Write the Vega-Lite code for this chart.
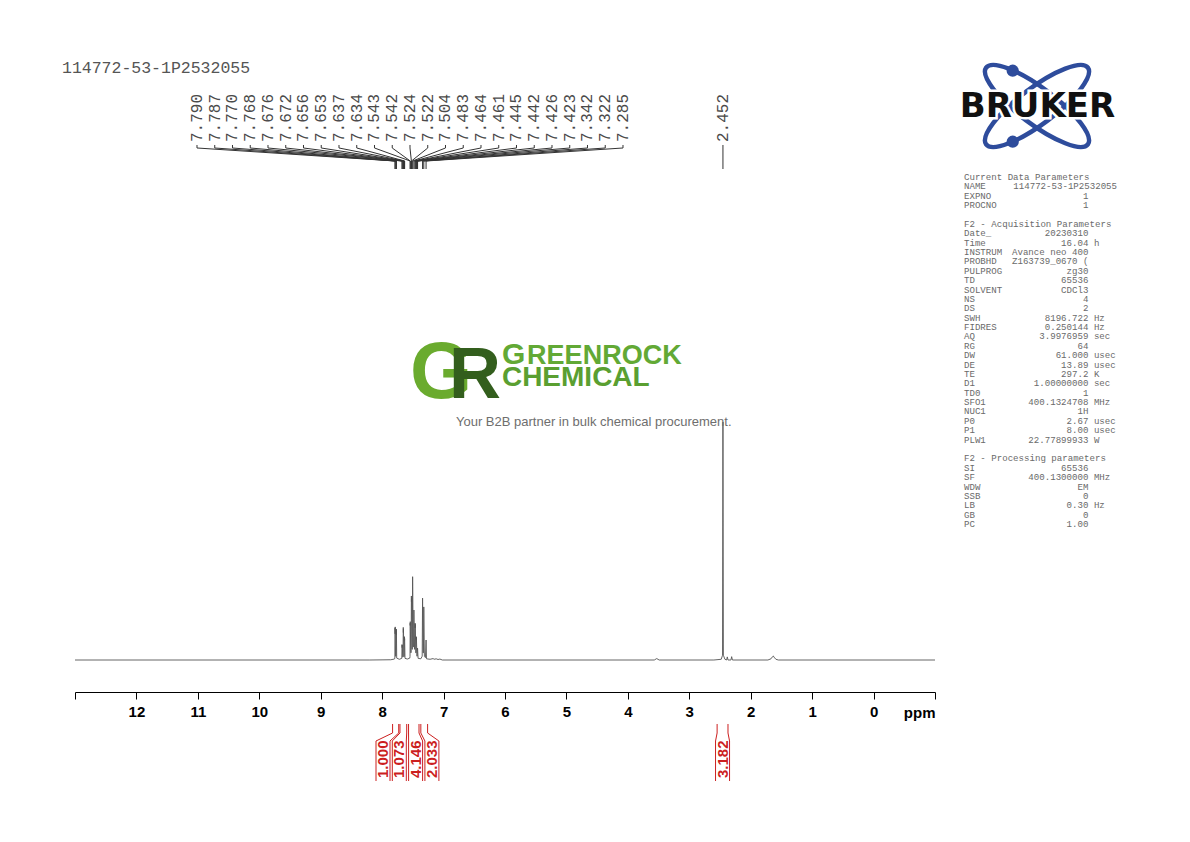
{
  "$schema": "https://vega.github.io/schema/vega-lite/v6.json",
  "padding": {"left": 62, "top": 55, "right": 0, "bottom": 0},
  "background": "white",
  "config": {"view": {"stroke": null}, "axis": {"grid": false}, "font": "Liberation Sans"},
  "datasets": {
    "spectrum": [
      {"ppm": 13.0, "intensity": 0}, {"ppm": 8.2, "intensity": 0}, {"ppm": 7.86, "intensity": 0.1}, {"ppm": 7.80, "intensity": 0.4},
      {"ppm": 7.793, "intensity": 0.8}, {"ppm": 7.790, "intensity": 13.5}, {"ppm": 7.7885, "intensity": 11.0}, {"ppm": 7.787, "intensity": 13.9},
      {"ppm": 7.782, "intensity": 1.6}, {"ppm": 7.775, "intensity": 1.6}, {"ppm": 7.770, "intensity": 12.5}, {"ppm": 7.769, "intensity": 10.5},
      {"ppm": 7.768, "intensity": 13.0}, {"ppm": 7.763, "intensity": 0.8}, {"ppm": 7.72, "intensity": 0.3}, {"ppm": 7.68, "intensity": 0.7},
      {"ppm": 7.676, "intensity": 6.5}, {"ppm": 7.674, "intensity": 5.2}, {"ppm": 7.672, "intensity": 6.3}, {"ppm": 7.665, "intensity": 1.2},
      {"ppm": 7.660, "intensity": 1.4}, {"ppm": 7.656, "intensity": 13.7}, {"ppm": 7.6545, "intensity": 11.5}, {"ppm": 7.653, "intensity": 13.0},
      {"ppm": 7.646, "intensity": 1.4}, {"ppm": 7.641, "intensity": 1.4}, {"ppm": 7.637, "intensity": 9.8}, {"ppm": 7.6355, "intensity": 8.2},
      {"ppm": 7.634, "intensity": 9.0}, {"ppm": 7.628, "intensity": 0.7}, {"ppm": 7.59, "intensity": 0.4}, {"ppm": 7.55, "intensity": 0.8},
      {"ppm": 7.546, "intensity": 1.5}, {"ppm": 7.543, "intensity": 15.5}, {"ppm": 7.5425, "intensity": 14.5}, {"ppm": 7.542, "intensity": 16.1},
      {"ppm": 7.534, "intensity": 3.0}, {"ppm": 7.528, "intensity": 3.2}, {"ppm": 7.524, "intensity": 26.9}, {"ppm": 7.523, "intensity": 24.5},
      {"ppm": 7.522, "intensity": 26.0}, {"ppm": 7.513, "intensity": 4.5}, {"ppm": 7.508, "intensity": 4.5}, {"ppm": 7.504, "intensity": 35.0},
      {"ppm": 7.494, "intensity": 5.5}, {"ppm": 7.488, "intensity": 5.5}, {"ppm": 7.483, "intensity": 21.0}, {"ppm": 7.473, "intensity": 4.5},
      {"ppm": 7.468, "intensity": 4.5}, {"ppm": 7.464, "intensity": 15.5}, {"ppm": 7.4625, "intensity": 13.5}, {"ppm": 7.461, "intensity": 15.0},
      {"ppm": 7.452, "intensity": 3.0}, {"ppm": 7.449, "intensity": 3.0}, {"ppm": 7.445, "intensity": 9.8}, {"ppm": 7.4435, "intensity": 8.5},
      {"ppm": 7.442, "intensity": 9.5}, {"ppm": 7.434, "intensity": 1.6}, {"ppm": 7.430, "intensity": 1.6}, {"ppm": 7.426, "intensity": 5.0},
      {"ppm": 7.4245, "intensity": 4.2}, {"ppm": 7.423, "intensity": 4.8}, {"ppm": 7.415, "intensity": 0.7}, {"ppm": 7.37, "intensity": 0.5},
      {"ppm": 7.348, "intensity": 1.6}, {"ppm": 7.342, "intensity": 26.0}, {"ppm": 7.333, "intensity": 3.0}, {"ppm": 7.328, "intensity": 3.0},
      {"ppm": 7.322, "intensity": 22.3}, {"ppm": 7.312, "intensity": 1.5}, {"ppm": 7.295, "intensity": 1.0}, {"ppm": 7.285, "intensity": 8.4},
      {"ppm": 7.278, "intensity": 0.5}, {"ppm": 7.22, "intensity": 0.3}, {"ppm": 7.17, "intensity": 0.6}, {"ppm": 7.155, "intensity": 0.3},
      {"ppm": 7.12, "intensity": 0.5}, {"ppm": 7.09, "intensity": 0.2}, {"ppm": 7.06, "intensity": 0.4}, {"ppm": 7.02, "intensity": 0},
      {"ppm": 6.0, "intensity": 0}, {"ppm": 3.57, "intensity": 0}, {"ppm": 3.53, "intensity": 0.6}, {"ppm": 3.49, "intensity": 0},
      {"ppm": 2.60, "intensity": 0}, {"ppm": 2.48, "intensity": 0.3}, {"ppm": 2.459, "intensity": 2.0}, {"ppm": 2.452, "intensity": 100},
      {"ppm": 2.445, "intensity": 2.0}, {"ppm": 2.42, "intensity": 0.3}, {"ppm": 2.392, "intensity": 0}, {"ppm": 2.381, "intensity": 1.3},
      {"ppm": 2.37, "intensity": 0}, {"ppm": 2.322, "intensity": 0}, {"ppm": 2.31, "intensity": 1.4}, {"ppm": 2.298, "intensity": 0},
      {"ppm": 1.72, "intensity": 0}, {"ppm": 1.67, "intensity": 0.5}, {"ppm": 1.645, "intensity": 1.4}, {"ppm": 1.633, "intensity": 1.7},
      {"ppm": 1.62, "intensity": 1.2}, {"ppm": 1.59, "intensity": 0.3}, {"ppm": 1.55, "intensity": 0}, {"ppm": -1.0, "intensity": 0}
    ],
    "peaks": [
      {"ppm": 7.790}, {"ppm": 7.787}, {"ppm": 7.770}, {"ppm": 7.768}, {"ppm": 7.676}, {"ppm": 7.672}, {"ppm": 7.656},
      {"ppm": 7.653}, {"ppm": 7.637}, {"ppm": 7.634}, {"ppm": 7.543}, {"ppm": 7.542}, {"ppm": 7.524}, {"ppm": 7.522},
      {"ppm": 7.504}, {"ppm": 7.483}, {"ppm": 7.464}, {"ppm": 7.461}, {"ppm": 7.445}, {"ppm": 7.442}, {"ppm": 7.426},
      {"ppm": 7.423}, {"ppm": 7.342}, {"ppm": 7.322}, {"ppm": 7.285}, {"ppm": 2.452}
    ],
    "integrals": [
      {"value": "1.000", "start": 7.83, "end": 7.73, "group": "A"},
      {"value": "1.073", "start": 7.71, "end": 7.60, "group": "A"},
      {"value": "4.146", "start": 7.57, "end": 7.40, "group": "A"},
      {"value": "2.033", "start": 7.37, "end": 7.26, "group": "A"},
      {"value": "3.182", "start": 2.547, "end": 2.37, "group": "B"}
    ],
    "params": [
      {"line": 1, "key": "Current Data Parameters", "value": "", "unit": ""},
      {"line": 2, "key": "NAME", "value": "114772-53-1P2532055", "unit": ""},
      {"line": 3, "key": "EXPNO", "value": "1", "unit": ""},
      {"line": 4, "key": "PROCNO", "value": "1", "unit": ""},
      {"line": 6, "key": "F2 - Acquisition Parameters", "value": "", "unit": ""},
      {"line": 7, "key": "Date_", "value": "20230310", "unit": ""},
      {"line": 8, "key": "Time", "value": "16.04", "unit": "h"},
      {"line": 9, "key": "INSTRUM", "value": "Avance neo 400", "unit": ""},
      {"line": 10, "key": "PROBHD", "value": "Z163739_0670 (", "unit": ""},
      {"line": 11, "key": "PULPROG", "value": "zg30", "unit": ""},
      {"line": 12, "key": "TD", "value": "65536", "unit": ""},
      {"line": 13, "key": "SOLVENT", "value": "CDCl3", "unit": ""},
      {"line": 14, "key": "NS", "value": "4", "unit": ""},
      {"line": 15, "key": "DS", "value": "2", "unit": ""},
      {"line": 16, "key": "SWH", "value": "8196.722", "unit": "Hz"},
      {"line": 17, "key": "FIDRES", "value": "0.250144", "unit": "Hz"},
      {"line": 18, "key": "AQ", "value": "3.9976959", "unit": "sec"},
      {"line": 19, "key": "RG", "value": "64", "unit": ""},
      {"line": 20, "key": "DW", "value": "61.000", "unit": "usec"},
      {"line": 21, "key": "DE", "value": "13.89", "unit": "usec"},
      {"line": 22, "key": "TE", "value": "297.2", "unit": "K"},
      {"line": 23, "key": "D1", "value": "1.00000000", "unit": "sec"},
      {"line": 24, "key": "TD0", "value": "1", "unit": ""},
      {"line": 25, "key": "SFO1", "value": "400.1324708", "unit": "MHz"},
      {"line": 26, "key": "NUC1", "value": "1H", "unit": ""},
      {"line": 27, "key": "P0", "value": "2.67", "unit": "usec"},
      {"line": 28, "key": "P1", "value": "8.00", "unit": "usec"},
      {"line": 29, "key": "PLW1", "value": "22.77899933", "unit": "W"},
      {"line": 31, "key": "F2 - Processing parameters", "value": "", "unit": ""},
      {"line": 32, "key": "SI", "value": "65536", "unit": ""},
      {"line": 33, "key": "SF", "value": "400.1300000", "unit": "MHz"},
      {"line": 34, "key": "WDW", "value": "EM", "unit": ""},
      {"line": 35, "key": "SSB", "value": "0", "unit": ""},
      {"line": 36, "key": "LB", "value": "0.30", "unit": "Hz"},
      {"line": 37, "key": "GB", "value": "0", "unit": ""},
      {"line": 38, "key": "PC", "value": "1.00", "unit": ""}
    ]
  },
  "spacing": 20,
  "hconcat": [
    {
      "width": 860,
      "height": 727,
      "resolve": {"axis": {"x": "independent", "y": "independent"}},
      "layer": [
        {
          "data": {"name": "spectrum"},
          "mark": {"type": "line", "color": "#555555", "strokeWidth": 0.9, "clip": true},
          "encoding": {
            "x": {"field": "ppm", "type": "quantitative", "scale": {"domain": [-1, 13], "reverse": true, "nice": false, "zero": false},
              "axis": {"values": [13, 12, 11, 10, 9, 8, 7, 6, 5, 4, 3, 2, 1, 0, -1], "offset": -90, "domain": true, "domainColor": "#000000", "domainWidth": 1,
                "ticks": true, "tickColor": "#000000", "tickSize": 7, "tickWidth": 1,
                "labelExpr": "datum.value > 12.5 || datum.value < -0.5 ? '' : datum.label",
                "labelFont": "Liberation Sans", "labelFontSize": 15, "labelFontWeight": "bold", "labelColor": "#000000", "labelPadding": 5,
                "labelOverlap": false, "labelFlush": false, "grid": false,
                "title": "ppm", "titleFont": "Liberation Sans", "titleFontSize": 15, "titleFontWeight": "bold", "titleColor": "#000000",
                "titleX": 860, "titleY": 25, "titleAlign": "right", "titleBaseline": "alphabetic"}},
            "y": {"field": "intensity", "type": "quantitative", "scale": {"domain": [-51.26, 254.2], "nice": false, "zero": false}, "axis": null}
          }
        },
        {
          "data": {"name": "peaks"},
          "transform": [
            {"window": [{"op": "row_number", "as": "rn"}], "sort": [{"field": "ppm", "order": "descending"}]},
            {"calculate": "datum.ppm > 5 ? 11.014 - (datum.rn - 1) * 0.28895 : datum.ppm", "as": "lx"}
          ],
          "layer": [
            {
              "mark": {"type": "text", "angle": 270, "align": "left", "baseline": "middle", "font": "Liberation Mono", "fontSize": 16, "color": "#4a4a4a"},
              "encoding": {
                "x": {"field": "lx", "type": "quantitative", "scale": {"domain": [-1, 13], "reverse": true, "nice": false, "zero": false}, "axis": null},
                "y": {"datum": 217.65, "type": "quantitative", "scale": {"domain": [-51.26, 254.2], "nice": false, "zero": false}, "axis": null},
                "text": {"field": "ppm", "type": "quantitative", "format": ".3f"}
              }
            },
            {
              "mark": {"type": "rule", "color": "#333333", "strokeWidth": 1},
              "encoding": {
                "x": {"field": "lx", "type": "quantitative", "scale": {"domain": [-1, 13], "reverse": true, "nice": false, "zero": false}, "axis": null},
                "y": {"datum": 216.39, "type": "quantitative", "scale": {"domain": [-51.26, 254.2], "nice": false, "zero": false}, "axis": null},
                "y2": {"datum": 215.13}
              }
            },
            {
              "mark": {"type": "rule", "color": "#333333", "strokeWidth": 1},
              "encoding": {
                "x": {"field": "lx", "type": "quantitative", "scale": {"domain": [-1, 13], "reverse": true, "nice": false, "zero": false}, "axis": null},
                "x2": {"field": "ppm"},
                "y": {"datum": 215.13, "type": "quantitative", "scale": {"domain": [-51.26, 254.2], "nice": false, "zero": false}, "axis": null},
                "y2": {"datum": 209.66}
              }
            },
            {
              "mark": {"type": "rule", "color": "#333333", "strokeWidth": 1},
              "encoding": {
                "x": {"field": "ppm", "type": "quantitative", "scale": {"domain": [-1, 13], "reverse": true, "nice": false, "zero": false},
                  "axis": {"tickCount": 140, "offset": -90, "domain": false, "labels": false, "ticks": true, "tickSize": 4, "tickColor": "#000000", "tickWidth": 0.8, "grid": false, "title": null}},
                "y": {"datum": 209.66, "type": "quantitative", "scale": {"domain": [-51.26, 254.2], "nice": false, "zero": false}, "axis": null},
                "y2": {"datum": 206.3}
              }
            }
          ]
        },
        {
          "data": {"name": "integrals"},
          "transform": [
            {"window": [{"op": "row_number", "as": "rn"}], "groupby": ["group"], "sort": [{"field": "start", "order": "descending"}]},
            {"calculate": "datum.group == 'A' ? 7.986 - (datum.rn - 1) * 0.2653 : (datum.start + datum.end) / 2", "as": "lc"},
            {"calculate": "datum.lc + 0.114", "as": "ll"},
            {"calculate": "datum.lc - 0.114", "as": "lr"}
          ],
          "layer": [
            {
              "mark": {"type": "rule", "color": "#cc1f1f", "strokeWidth": 1},
              "encoding": {
                "x": {"field": "start", "type": "quantitative", "scale": {"domain": [-1, 13], "reverse": true, "nice": false, "zero": false}, "axis": null},
                "y": {"datum": -26.89, "type": "quantitative", "scale": {"domain": [-51.26, 254.2], "nice": false, "zero": false}, "axis": null},
                "y2": {"datum": -30.67}
              }
            },
            {
              "mark": {"type": "rule", "color": "#cc1f1f", "strokeWidth": 1},
              "encoding": {
                "x": {"field": "end", "type": "quantitative", "scale": {"domain": [-1, 13], "reverse": true, "nice": false, "zero": false}, "axis": null},
                "y": {"datum": -26.89, "type": "quantitative", "scale": {"domain": [-51.26, 254.2], "nice": false, "zero": false}, "axis": null},
                "y2": {"datum": -30.67}
              }
            },
            {
              "mark": {"type": "rule", "color": "#cc1f1f", "strokeWidth": 1},
              "encoding": {
                "x": {"field": "start", "type": "quantitative", "scale": {"domain": [-1, 13], "reverse": true, "nice": false, "zero": false}, "axis": null},
                "x2": {"field": "ll"},
                "y": {"datum": -30.67, "type": "quantitative", "scale": {"domain": [-51.26, 254.2], "nice": false, "zero": false}, "axis": null},
                "y2": {"datum": -34.03}
              }
            },
            {
              "mark": {"type": "rule", "color": "#cc1f1f", "strokeWidth": 1},
              "encoding": {
                "x": {"field": "end", "type": "quantitative", "scale": {"domain": [-1, 13], "reverse": true, "nice": false, "zero": false}, "axis": null},
                "x2": {"field": "lr"},
                "y": {"datum": -30.67, "type": "quantitative", "scale": {"domain": [-51.26, 254.2], "nice": false, "zero": false}, "axis": null},
                "y2": {"datum": -34.03}
              }
            },
            {
              "mark": {"type": "rule", "color": "#cc1f1f", "strokeWidth": 1},
              "encoding": {
                "x": {"field": "ll", "type": "quantitative", "scale": {"domain": [-1, 13], "reverse": true, "nice": false, "zero": false}, "axis": null},
                "y": {"datum": -34.03, "type": "quantitative", "scale": {"domain": [-51.26, 254.2], "nice": false, "zero": false}, "axis": null},
                "y2": {"datum": -50.84}
              }
            },
            {
              "mark": {"type": "rule", "color": "#cc1f1f", "strokeWidth": 1},
              "encoding": {
                "x": {"field": "lr", "type": "quantitative", "scale": {"domain": [-1, 13], "reverse": true, "nice": false, "zero": false}, "axis": null},
                "y": {"datum": -34.03, "type": "quantitative", "scale": {"domain": [-51.26, 254.2], "nice": false, "zero": false}, "axis": null},
                "y2": {"datum": -50.84}
              }
            },
            {
              "mark": {"type": "text", "angle": 270, "align": "left", "baseline": "middle", "font": "Liberation Sans", "fontSize": 15, "fontWeight": "bold", "color": "#cc1f1f"},
              "encoding": {
                "x": {"field": "lc", "type": "quantitative", "scale": {"domain": [-1, 13], "reverse": true, "nice": false, "zero": false}, "axis": null},
                "y": {"datum": -49.58, "type": "quantitative", "scale": {"domain": [-51.26, 254.2], "nice": false, "zero": false}, "axis": null},
                "text": {"field": "value"}
              }
            }
          ]
        },
        {
          "data": {"values": [{"t": "114772-53-1P2532055"}]},
          "mark": {"type": "text", "align": "left", "baseline": "middle", "font": "Liberation Mono", "fontSize": 16.5, "color": "#555555"},
          "encoding": {
            "x": {"datum": 13.2116, "type": "quantitative", "scale": {"domain": [-1, 13], "reverse": true, "nice": false, "zero": false}, "axis": null},
            "y": {"datum": 248.74, "type": "quantitative", "scale": {"domain": [-51.26, 254.2], "nice": false, "zero": false}, "axis": null},
            "text": {"field": "t"}
          }
        },
        {
          "data": {"values": [{"t": "G"}]},
          "mark": {"type": "text", "align": "left", "baseline": "alphabetic", "font": "Liberation Sans", "fontSize": 80, "fontWeight": "bold", "color": "#6aab2e"},
          "encoding": {
            "x": {"datum": 7.545, "type": "quantitative", "scale": {"domain": [-1, 13], "reverse": true, "nice": false, "zero": false}, "axis": null},
            "y": {"datum": 110.1, "type": "quantitative", "scale": {"domain": [-51.26, 254.2], "nice": false, "zero": false}, "axis": null},
            "text": {"field": "t"}
          }
        },
        {
          "data": {"values": [{"t": "R"}]},
          "mark": {"type": "text", "align": "left", "baseline": "alphabetic", "font": "Liberation Sans", "fontSize": 72, "fontWeight": "bold", "color": "#335e1d"},
          "encoding": {
            "x": {"datum": 6.912, "type": "quantitative", "scale": {"domain": [-1, 13], "reverse": true, "nice": false, "zero": false}, "axis": null},
            "y": {"datum": 110.1, "type": "quantitative", "scale": {"domain": [-51.26, 254.2], "nice": false, "zero": false}, "axis": null},
            "text": {"field": "t"}
          }
        },
        {
          "data": {"values": [{"t": "G"}]},
          "mark": {"type": "text", "align": "left", "baseline": "alphabetic", "font": "Liberation Sans", "fontSize": 30, "fontWeight": "bold", "color": "#62a935"},
          "encoding": {
            "x": {"datum": 6.05, "type": "quantitative", "scale": {"domain": [-1, 13], "reverse": true, "nice": false, "zero": false}, "axis": null},
            "y": {"datum": 124.37, "type": "quantitative", "scale": {"domain": [-51.26, 254.2], "nice": false, "zero": false}, "axis": null},
            "text": {"field": "t"}
          }
        },
        {
          "data": {"values": [{"t": "REENROCK"}]},
          "mark": {"type": "text", "align": "left", "baseline": "alphabetic", "font": "Liberation Sans", "fontSize": 27, "fontWeight": "bold", "color": "#62a935"},
          "encoding": {
            "x": {"datum": 5.64, "type": "quantitative", "scale": {"domain": [-1, 13], "reverse": true, "nice": false, "zero": false}, "axis": null},
            "y": {"datum": 124.37, "type": "quantitative", "scale": {"domain": [-51.26, 254.2], "nice": false, "zero": false}, "axis": null},
            "text": {"field": "t"}
          }
        },
        {
          "data": {"values": [{"t": "CHEMICAL"}]},
          "mark": {"type": "text", "align": "left", "baseline": "alphabetic", "font": "Liberation Sans", "fontSize": 28, "fontWeight": "bold", "color": "#5a9f31"},
          "encoding": {
            "x": {"datum": 6.05, "type": "quantitative", "scale": {"domain": [-1, 13], "reverse": true, "nice": false, "zero": false}, "axis": null},
            "y": {"datum": 115.13, "type": "quantitative", "scale": {"domain": [-51.26, 254.2], "nice": false, "zero": false}, "axis": null},
            "text": {"field": "t"}
          }
        },
        {
          "data": {"values": [{"t": "Your B2B partner in bulk chemical procurement."}]},
          "mark": {"type": "text", "align": "left", "baseline": "alphabetic", "font": "Liberation Sans", "fontSize": 13, "color": "#6e6e6e"},
          "encoding": {
            "x": {"datum": 6.798, "type": "quantitative", "scale": {"domain": [-1, 13], "reverse": true, "nice": false, "zero": false}, "axis": null},
            "y": {"datum": 98.32, "type": "quantitative", "scale": {"domain": [-51.26, 254.2], "nice": false, "zero": false}, "axis": null},
            "text": {"field": "t"}
          }
        }
      ]
    },
    {
      "width": 170,
      "height": 727,
      "layer": [
        {
          "data": {"values": [{"logo": "Bruker"}]},
          "mark": {"type": "point", "shape": "M0.7986,0.6018C0.7045,0.7266,0.2708,0.5584,-0.1703,0.226C-0.6114,-0.1064,-0.8927,-0.477,-0.7986,-0.6018C-0.7045,-0.7266,-0.2708,-0.5584,0.1703,-0.226C0.6114,0.1064,0.8927,0.477,0.7986,0.6018Z", "filled": false, "stroke": "#2e4c9c", "strokeWidth": 4.5, "size": 16231, "opacity": 1},
          "encoding": {
            "x": {"datum": 13.32, "type": "quantitative", "scale": {"domain": [-1.46, 29.56], "nice": false, "zero": false}, "axis": null},
            "y": {"datum": -6.57, "type": "quantitative", "scale": {"domain": [-12.006, 65.5], "reverse": true, "nice": false, "zero": false}, "axis": null}
          }
        },
        {
          "data": {"values": [{"logo": "Bruker"}]},
          "mark": {"type": "point", "shape": "M-0.7986,0.6018C-0.7045,0.7266,-0.2708,0.5584,0.1703,0.226C0.6114,-0.1064,0.8927,-0.477,0.7986,-0.6018C0.7045,-0.7266,0.2708,-0.5584,-0.1703,-0.226C-0.6114,0.1064,-0.8927,0.477,-0.7986,0.6018Z", "filled": false, "stroke": "#2e4c9c", "strokeWidth": 4.5, "size": 16231, "opacity": 1},
          "encoding": {
            "x": {"datum": 13.32, "type": "quantitative", "scale": {"domain": [-1.46, 29.56], "nice": false, "zero": false}, "axis": null},
            "y": {"datum": -6.57, "type": "quantitative", "scale": {"domain": [-12.006, 65.5], "reverse": true, "nice": false, "zero": false}, "axis": null}
          }
        },
        {
          "data": {"values": [{"logo": "Bruker"}]},
          "mark": {"type": "point", "shape": "circle", "filled": true, "color": "#2e4c9c", "size": 150, "opacity": 1},
          "encoding": {
            "x": {"datum": 8.89, "type": "quantitative", "scale": {"domain": [-1.46, 29.56], "nice": false, "zero": false}, "axis": null},
            "y": {"datum": -10.33, "type": "quantitative", "scale": {"domain": [-12.006, 65.5], "reverse": true, "nice": false, "zero": false}, "axis": null}
          }
        },
        {
          "data": {"values": [{"logo": "Bruker"}]},
          "mark": {"type": "point", "shape": "circle", "filled": true, "color": "#2e4c9c", "size": 150, "opacity": 1},
          "encoding": {
            "x": {"datum": 8.89, "type": "quantitative", "scale": {"domain": [-1.46, 29.56], "nice": false, "zero": false}, "axis": null},
            "y": {"datum": -2.76, "type": "quantitative", "scale": {"domain": [-12.006, 65.5], "reverse": true, "nice": false, "zero": false}, "axis": null}
          }
        },
        {
          "data": {"values": [{"logo": "BRUKER"}]},
          "mark": {"type": "text", "align": "center", "baseline": "alphabetic", "font": "DejaVu Sans", "fontSize": 34, "fontWeight": "bold", "color": "#ffffff", "stroke": "#ffffff", "strokeWidth": 5},
          "encoding": {
            "x": {"datum": 13.41, "type": "quantitative", "scale": {"domain": [-1.46, 29.56], "nice": false, "zero": false}, "axis": null},
            "y": {"datum": -5.4, "type": "quantitative", "scale": {"domain": [-12.006, 65.5], "reverse": true, "nice": false, "zero": false}, "axis": null},
            "text": {"field": "logo"}
          }
        },
        {
          "data": {"values": [{"logo": "BRUKER"}]},
          "mark": {"type": "text", "align": "center", "baseline": "alphabetic", "font": "DejaVu Sans", "fontSize": 34, "fontWeight": "bold", "color": "#111111"},
          "encoding": {
            "x": {"datum": 13.41, "type": "quantitative", "scale": {"domain": [-1.46, 29.56], "nice": false, "zero": false}, "axis": null},
            "y": {"datum": -5.4, "type": "quantitative", "scale": {"domain": [-12.006, 65.5], "reverse": true, "nice": false, "zero": false}, "axis": null},
            "text": {"field": "logo"}
          }
        },
        {
          "data": {"name": "params"},
          "mark": {"type": "text", "align": "left", "baseline": "middle", "font": "Liberation Mono", "fontSize": 9.1, "color": "#6a6a6a"},
          "encoding": {
            "x": {"datum": 0, "type": "quantitative", "scale": {"domain": [-1.46, 29.56], "nice": false, "zero": false}, "axis": null},
            "y": {"field": "line", "type": "quantitative", "scale": {"domain": [-12.006, 65.5], "reverse": true, "nice": false, "zero": false}, "axis": null},
            "text": {"field": "key"}
          }
        },
        {
          "data": {"name": "params"},
          "transform": [{"filter": "datum.key != 'NAME'"}],
          "mark": {"type": "text", "align": "right", "baseline": "middle", "font": "Liberation Mono", "fontSize": 9.1, "color": "#6a6a6a"},
          "encoding": {
            "x": {"datum": 22.7, "type": "quantitative", "scale": {"domain": [-1.46, 29.56], "nice": false, "zero": false}, "axis": null},
            "y": {"field": "line", "type": "quantitative", "scale": {"domain": [-12.006, 65.5], "reverse": true, "nice": false, "zero": false}, "axis": null},
            "text": {"field": "value"}
          }
        },
        {
          "data": {"name": "params"},
          "transform": [{"filter": "datum.key == 'NAME'"}],
          "mark": {"type": "text", "align": "left", "baseline": "middle", "font": "Liberation Mono", "fontSize": 9.1, "color": "#6a6a6a"},
          "encoding": {
            "x": {"datum": 9, "type": "quantitative", "scale": {"domain": [-1.46, 29.56], "nice": false, "zero": false}, "axis": null},
            "y": {"field": "line", "type": "quantitative", "scale": {"domain": [-12.006, 65.5], "reverse": true, "nice": false, "zero": false}, "axis": null},
            "text": {"field": "value"}
          }
        },
        {
          "data": {"name": "params"},
          "mark": {"type": "text", "align": "left", "baseline": "middle", "font": "Liberation Mono", "fontSize": 9.1, "color": "#6a6a6a"},
          "encoding": {
            "x": {"datum": 23.7, "type": "quantitative", "scale": {"domain": [-1.46, 29.56], "nice": false, "zero": false}, "axis": null},
            "y": {"field": "line", "type": "quantitative", "scale": {"domain": [-12.006, 65.5], "reverse": true, "nice": false, "zero": false}, "axis": null},
            "text": {"field": "unit"}
          }
        }
      ]
    }
  ]
}
